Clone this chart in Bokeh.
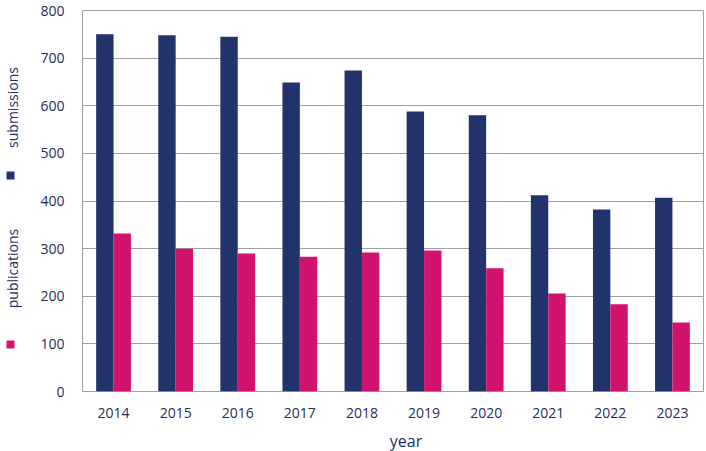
import math
from bokeh.plotting import figure
from bokeh.models import FactorRange, Range1d, ColumnDataSource
from bokeh.transform import dodge
from bokeh.layouts import row, column
from bokeh.core.properties import value
from bokeh.embed import file_html
from bokeh.resources import INLINE

years = ["2014", "2015", "2016", "2017", "2018", "2019", "2020", "2021", "2022", "2023"]
submissions = [750, 748, 745, 649, 674, 588, 580, 412, 382, 407]
publications = [332, 300, 290, 283, 292, 296, 259, 206, 183, 145]
series_names = ["submissions", "publications"]
y_ticks = [0, 100, 200, 300, 400, 500, 600, 700, 800]
x_title = "year"

NAVY = "#22326B"
PINK = "#D1136E"
TEXT = "#1F2D5F"
GRID = "#A0A0A0"
FONT = "Open Sans"

LEG_W = 36
MAIN_W = 670
MAIN_H = 423
TOTAL_H = 451

src = ColumnDataSource(dict(year=years, sub=submissions, pub=publications))

p = figure(x_range=FactorRange(factors=years, range_padding=0), y_range=Range1d(0, 800),
           width=MAIN_W, height=MAIN_H, output_backend="svg", toolbar_location=None,
           min_border_left=46, min_border_right=3, min_border_top=10, min_border_bottom=32)

p.vbar(x=dodge("year", -0.14, range=p.x_range), top="sub", width=0.28, source=src,
       fill_color=NAVY, line_color=None)
p.vbar(x=dodge("year", 0.14, range=p.x_range), top="pub", width=0.28, source=src,
       fill_color=PINK, line_color=None)

p.outline_line_color = GRID
p.xgrid.grid_line_color = None
p.ygrid.grid_line_color = GRID
p.ygrid.ticker = y_ticks
p.yaxis.ticker = y_ticks
for ax in (p.xaxis[0], p.yaxis[0]):
    ax.axis_line_color = None
    ax.major_tick_line_color = None
    ax.minor_tick_line_color = None
    ax.major_label_text_color = TEXT
    ax.major_label_text_font = FONT
    ax.major_label_text_font_size = "14px"
p.yaxis.major_label_standoff = 12
p.xaxis.major_label_standoff = 10

# x-axis title strip below the main figure
yf = figure(width=MAIN_W, height=TOTAL_H - MAIN_H, x_range=Range1d(0, MAIN_W),
            y_range=Range1d(TOTAL_H - MAIN_H, 0), output_backend="svg", toolbar_location=None,
            x_axis_type=None, y_axis_type=None, min_border=0, outline_line_color=None)
yf.xgrid.visible = False
yf.ygrid.visible = False
yf.text(x=[349], y=[17], text=[x_title], text_align="center", text_baseline="middle",
        text_color=TEXT, text_font=value(FONT), text_font_size="16px")

# legend column on the left
lf = figure(width=LEG_W, height=TOTAL_H, x_range=Range1d(0, LEG_W), y_range=Range1d(TOTAL_H, 0),
            output_backend="svg", toolbar_location=None, x_axis_type=None, y_axis_type=None,
            min_border=0, outline_line_color=None)
lf.xgrid.visible = False
lf.ygrid.visible = False
text_y = [107, 268]
sq_y = [175, 344]
colors = [NAVY, PINK]
lf.rect(x=[10, 10], y=sq_y, width=8, height=8, fill_color=colors, line_color=None)
lf.text(x=[12, 12], y=text_y, text=series_names, angle=math.pi / 2, text_align="center",
        text_baseline="middle", text_color=TEXT, text_font=value(FONT), text_font_size="14px")

layout = row(lf, column(p, yf))
open("out.html", "w").write(file_html(layout, INLINE))
